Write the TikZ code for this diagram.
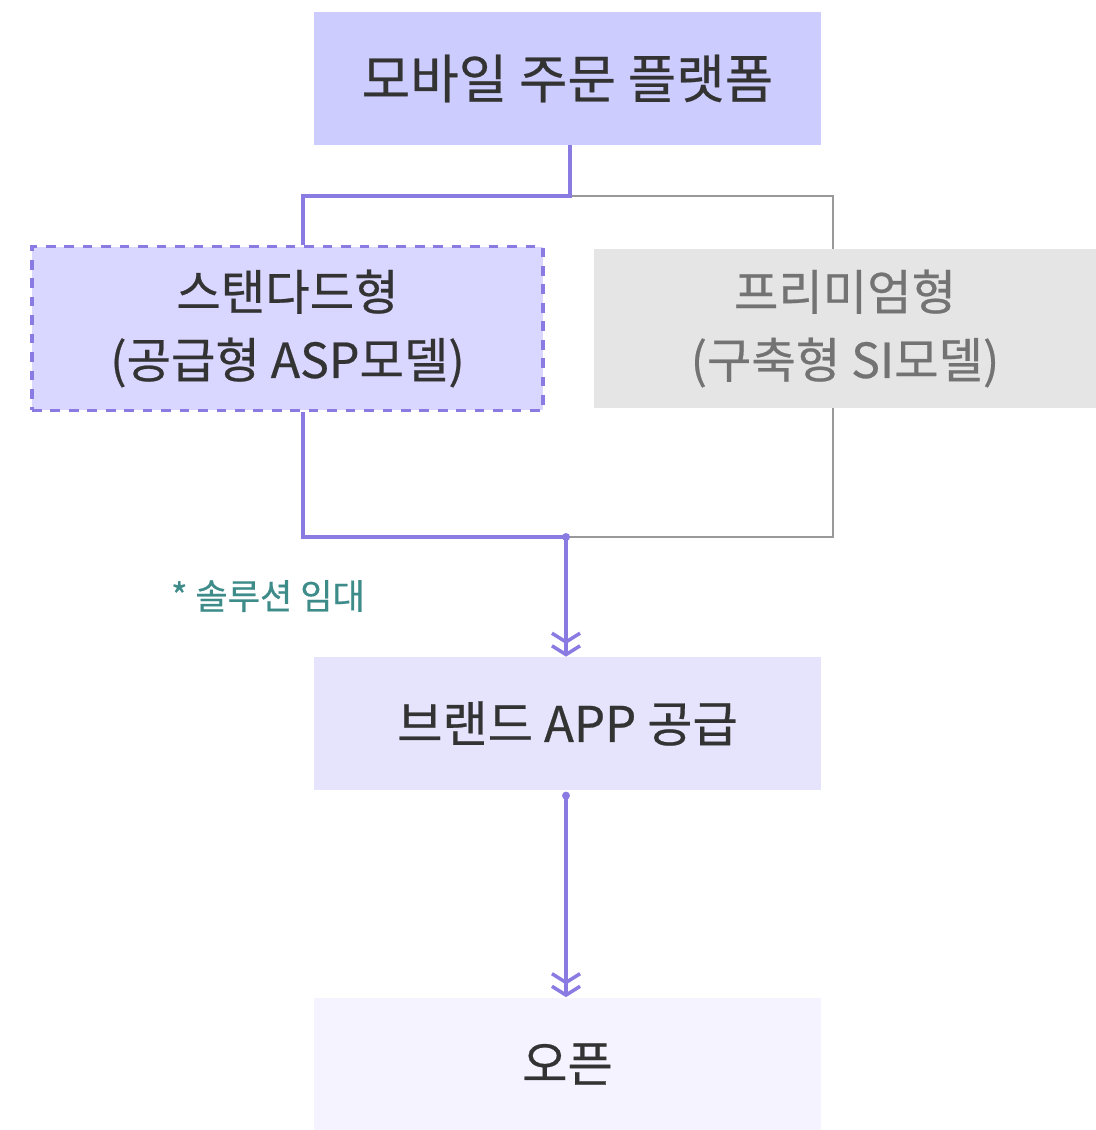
\documentclass[tikz,border=0pt]{standalone}
\usepackage{fontspec}
\setmainfont{Noto Sans CJK KR}[FakeBold=0.5]
\usepackage{xcolor}
\usetikzlibrary{arrows.meta}
\definecolor{lilac}{HTML}{CCCCFF}
\definecolor{lilacmid}{HTML}{D9D6FF}
\definecolor{lilaclight}{HTML}{E6E4FC}
\definecolor{lilacpale}{HTML}{F4F3FF}
\definecolor{violet}{HTML}{8A7BE2}
\definecolor{greybox}{HTML}{E5E5E5}
\definecolor{greyline}{HTML}{999999}
\definecolor{teal}{HTML}{3E8C8A}
\tikzset{
  stage/.style={inner sep=0pt, minimum width=10.14cm, minimum height=2.66cm, text=black!80, font=\fontsize{28}{32}\selectfont},
  option/.style={inner sep=0pt, align=center, text=black!80, font=\fontsize{27.5}{38.7}\selectfont},
  flow/.style={violet, line width=2pt},
  flowgrey/.style={greyline, line width=1.6pt},
  chevron/.style={-{Straight Barb[length=5pt,width=16pt,line width=2pt]Straight Barb[length=5pt,width=16pt,line width=2pt]}}
}

\begin{document}
\begin{tikzpicture}[x=0.02cm, y=-0.02cm]
		\useasboundingbox (0,0) rectangle (1096,1130);
		% boxes
		\node[stage, fill=lilac, font=\fontsize{30}{34}\selectfont] (platform) at (567.5,78.5) {모바일 주문 플랫폼};
		\node[option, fill=lilacmid, draw=violet, line width=2pt, dash pattern=on 5.5pt off 5pt, minimum width=10.22cm, minimum height=3.28cm] (standard) at (287.5,328.5) {스탠다드형\\(공급형 ASP모델)};
		\node[option, fill=greybox, text=black!55, minimum width=10.04cm, minimum height=3.18cm] (premium) at (845,328.5) {프리미엄형\\(구축형 SI모델)};
		\node[stage, fill=lilaclight] (brand) at (567.5,723.5) {브랜드 APP 공급};
		\node[stage, fill=lilacpale] (launch) at (567.5,1064) {오픈};
		%
		\coordinate (split) at (570,196);
		\coordinate (merge) at (566,537);
		% branches
		\draw[flowgrey] (split) -| (premium.north -| 833,0);
		\draw[flowgrey] (premium.south -| 833,0) |- (merge);
		\draw[flow] (platform.south -| split) -- (split) -| (standard.north -| 303,0);
		\draw[flow] (standard.south -| 303,0) |- (merge);
		\fill[violet] (merge) circle [radius=0.08cm];
		\draw[flow, chevron] (merge) -- (brand.north -| merge);
		\node[text=teal, font=\fontsize{20}{24}\selectfont] (rent) at (268,596) {* 솔루션 임대};
		%
		\coordinate (out) at (brand.south -| merge);
		\fill[violet] ([yshift=-3pt]out) circle [radius=0.08cm];
		\draw[flow, chevron] ([yshift=-3pt]out) -- (launch.north -| merge);
	\end{tikzpicture}
\end{document}
